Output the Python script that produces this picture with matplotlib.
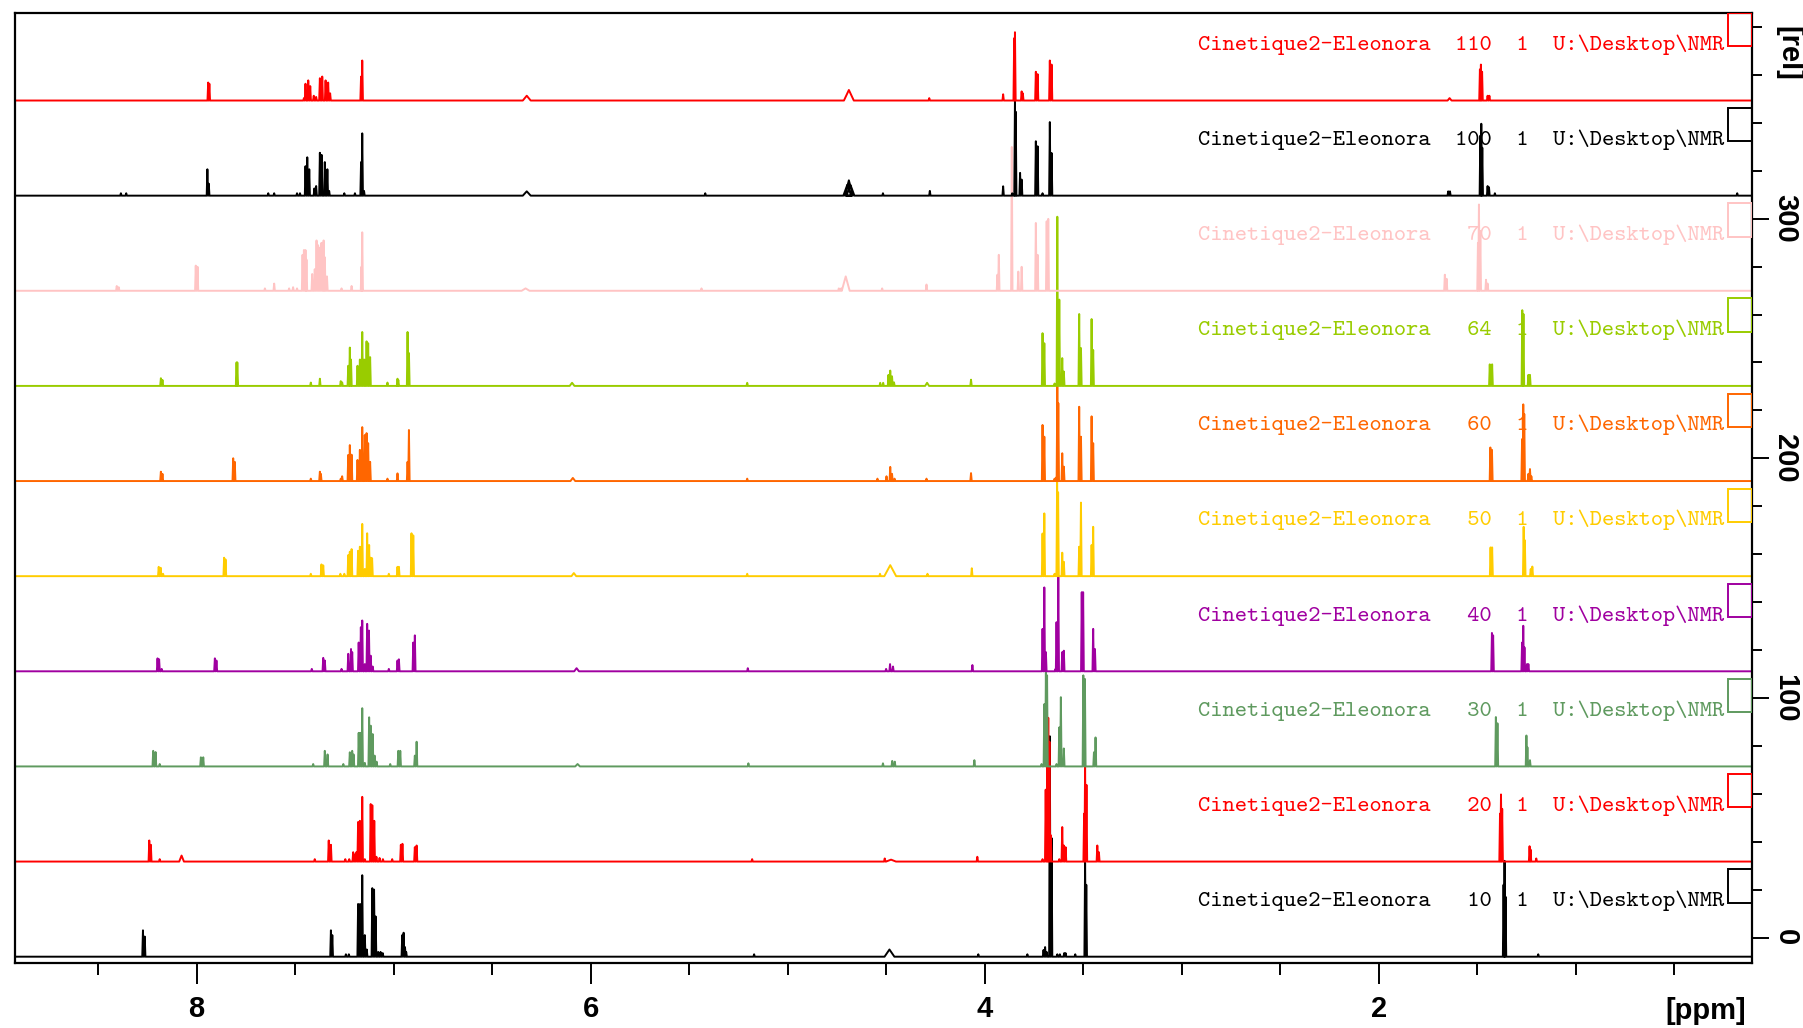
import matplotlib
matplotlib.use("Agg")
import numpy as np
import matplotlib.pyplot as plt
from matplotlib import font_manager
from matplotlib.patches import Rectangle
from matplotlib.ticker import FixedLocator, MultipleLocator

# ---- stacked 1H spectra: experiment numbers, colours, vertical offsets ----
experiments = [10, 20, 30, 40, 50, 60, 64, 70, 100, 110]
colors = ["#000000", "#ff0000", "#5f9a5f", "#a000a0", "#ffcc00",
          "#ff6600", "#99cc00", "#ffc4c4", "#000000", "#ff0000"]
offsets = [-8.0, 31.7, 71.4, 111.1, 150.8, 190.5, 230.2, 269.9, 309.6, 349.3]
dataset = "Cinetique2-Eleonora"
procno = 1
path = "U:\\Desktop\\NMR"

x_ticks = [8, 6, 4, 2]
x_tick_labels = ["8", "6", "4", "2"]
y_ticks = [0, 100, 200, 300]
y_tick_labels = ["0", "100", "200", "300"]

# peak lists: (shift in ppm, intensity in rel units)
peaks_010 = [
    (8.272, 11), (8.263, 8.4),
    (7.318, 11), (7.311, 9), (7.242, 1), (7.227, 1),
    (7.180, 22), (7.170, 22), (7.159, 34), (7.146, 9), (7.136, 3),
    (7.108, 28.6), (7.099, 28), (7.091, 16.8), (7.078, 2), (7.066, 2), (7.055, 1.5),
    (6.956, 9), (6.949, 10), (6.942, 4), (6.936, 2),
    (5.170, 1), (4.032, 1),
    (3.783, 1), (3.701, 2.8), (3.693, 4), (3.685, 2),
    (3.669, 92), (3.660, 49.5), (3.631, 1), (3.618, 1), (3.596, 1.5), (3.589, 1.5), (3.540, 1),
    (3.490, 40), (3.484, 30),
    (1.366, 30), (1.361, 40), (1.356, 25), (1.190, 1),
]
humps_010 = [(4.483, 3, 0.025)]

peaks_020 = [
    (8.240, 8.8), (8.232, 7), (8.187, 1),
    (7.400, 1), (7.329, 8.8), (7.318, 7),
    (7.245, 1), (7.225, 1), (7.205, 3.9), (7.196, 3), (7.188, 4),
    (7.180, 16.5), (7.171, 17), (7.159, 27), (7.146, 1),
    (7.116, 24), (7.108, 23.5), (7.098, 17), (7.087, 2), (7.071, 1.5), (7.054, 1),
    (7.007, 1), (6.963, 7), (6.955, 7.4), (6.892, 6), (6.883, 6.7),
    (5.180, 1), (4.507, 1.3), (4.037, 2),
    (3.706, 1), (3.690, 30), (3.682, 45), (3.677, 60), (3.671, 50), (3.664, 11),
    (3.621, 1), (3.606, 14.4), (3.598, 6.7), (3.589, 6),
    (3.495, 20), (3.490, 40), (3.483, 32),
    (3.428, 6.7), (3.420, 3.9),
    (1.384, 20), (1.379, 28), (1.373, 22), (1.234, 6.4), (1.229, 5), (1.200, 1.3),
]
humps_020 = [(8.076, 2.5, 0.012), (4.475, 0.8, 0.025)]

peaks_030 = [
    (8.220, 6.5), (8.208, 6), (8.187, 1),
    (7.978, 3.8), (7.966, 3.8),
    (7.408, 1), (7.349, 6.5), (7.335, 5), (7.255, 1),
    (7.222, 5.9), (7.210, 6.5), (7.203, 5),
    (7.177, 14), (7.169, 14), (7.159, 24.3), (7.146, 1.5),
    (7.124, 20.5), (7.116, 17), (7.106, 13.5), (7.096, 4.5), (7.086, 2),
    (7.017, 1), (6.976, 6.5), (6.966, 6.5), (6.892, 4.5), (6.883, 10.3),
    (5.199, 1.3), (4.516, 1.3), (4.469, 2.3), (4.456, 2), (4.052, 2.6),
    (3.711, 1), (3.697, 26), (3.689, 39.3), (3.683, 38),
    (3.635, 1), (3.621, 16.3), (3.613, 28.9), (3.606, 2), (3.598, 7.5),
    (3.499, 38), (3.491, 36.5),
    (3.445, 5.9), (3.437, 12.1),
    (1.405, 20.6), (1.397, 18), (1.250, 12.9), (1.245, 8), (1.232, 2.6),
]
humps_030 = [(6.066, 1, 0.012)]

peaks_040 = [
    (8.198, 5.4), (8.190, 5), (8.177, 1),
    (7.907, 5.4), (7.899, 4.5),
    (7.415, 1), (7.357, 5.6), (7.349, 4.5), (7.264, 1),
    (7.230, 7.3), (7.216, 9.3), (7.210, 8),
    (7.177, 12), (7.166, 18.4), (7.159, 21.2), (7.146, 3),
    (7.134, 19.8), (7.125, 17), (7.116, 6.5), (7.106, 2),
    (7.024, 1), (6.980, 4.5), (6.973, 5), (6.900, 12), (6.892, 15),
    (5.202, 1.3), (4.500, 1), (4.480, 3), (4.465, 2), (4.062, 2.6),
    (3.706, 17.7), (3.697, 35), (3.689, 8),
    (3.640, 1), (3.635, 20.5), (3.626, 40),
    (3.606, 8), (3.598, 8.6),
    (3.507, 33), (3.500, 33),
    (3.449, 17.7), (3.440, 9.3),
    (1.425, 16), (1.419, 15), (1.272, 12), (1.266, 19), (1.260, 10), (1.247, 3), (1.240, 3),
]
humps_040 = [(6.071, 1.3, 0.012)]

peaks_050 = [
    (8.192, 3.9), (8.182, 3.5), (8.170, 1),
    (7.860, 7.7), (7.853, 7),
    (7.420, 1), (7.366, 4.9), (7.357, 4.5),
    (7.270, 1), (7.250, 1),
    (7.230, 8.8), (7.222, 10.2), (7.213, 11.3),
    (7.180, 10.6), (7.171, 12.3), (7.159, 21.8), (7.146, 3),
    (7.134, 17.9), (7.124, 13), (7.116, 7.7), (7.109, 7.5),
    (7.024, 1), (6.980, 3.9), (6.973, 3.9), (6.909, 17.9), (6.900, 17),
    (5.205, 1), (4.531, 1), (4.290, 1), (4.065, 3.3),
    (3.706, 17.8), (3.697, 26.2), (3.645, 1), (3.638, 1),
    (3.632, 40), (3.627, 35),
    (3.606, 9.8), (3.598, 6),
    (3.520, 12.3), (3.511, 30.7),
    (3.457, 13), (3.449, 20.6),
    (1.432, 12), (1.424, 12), (1.264, 20.6), (1.258, 15), (1.228, 3), (1.220, 4),
]
humps_050 = [(6.085, 1.3, 0.012), (4.479, 4.6, 0.03)]

peaks_060 = [
    (8.181, 3.9), (8.173, 3),
    (7.814, 9.5), (7.806, 8),
    (7.420, 1), (7.374, 3.9), (7.369, 3),
    (7.268, 1), (7.261, 2),
    (7.230, 10.9), (7.222, 15), (7.213, 11),
    (7.183, 8.8), (7.171, 13), (7.159, 22.5), (7.146, 19.2), (7.137, 20), (7.129, 15.8), (7.119, 8),
    (7.031, 1), (6.980, 3.2), (6.929, 8), (6.922, 21.3),
    (5.205, 1), (4.544, 1), (4.498, 2), (4.479, 5.9), (4.470, 3), (4.457, 1), (4.295, 1), (4.069, 3.3),
    (3.706, 23.4), (3.697, 18.5), (3.645, 1), (3.636, 1.5),
    (3.631, 40), (3.626, 32.5),
    (3.606, 11.6), (3.598, 6),
    (3.520, 31), (3.511, 18.5),
    (3.457, 27), (3.449, 15.8),
    (1.433, 14), (1.425, 13), (1.272, 17.5), (1.266, 32), (1.261, 28), (1.240, 3), (1.232, 5), (1.225, 2),
]
humps_060 = [(6.090, 1.3, 0.012)]

peaks_064 = [
    (8.181, 3.2), (8.173, 2.5),
    (7.797, 9.8), (7.793, 9.8),
    (7.420, 1.4), (7.374, 3),
    (7.268, 2), (7.261, 1.5),
    (7.230, 8.4), (7.222, 16), (7.216, 11),
    (7.183, 8.4), (7.171, 11), (7.159, 22.5), (7.149, 11), (7.137, 18.6), (7.129, 17.8), (7.119, 12),
    (7.031, 1.4), (6.980, 3), (6.976, 2.5), (6.929, 22.5), (6.922, 13.7),
    (5.205, 1.3), (4.530, 1.3), (4.515, 1.3), (4.488, 4.6), (4.479, 6.4), (4.470, 4), (4.460, 1.5),
    (4.069, 2.6),
    (3.706, 22), (3.697, 17.8), (3.645, 1),
    (3.631, 70.6), (3.621, 36),
    (3.606, 11.6), (3.598, 6),
    (3.520, 30), (3.511, 15.8),
    (3.457, 27.9), (3.449, 15),
    (1.436, 9), (1.424, 9), (1.271, 31.6), (1.265, 30), (1.240, 4.6), (1.232, 4.6),
]
humps_064 = [(6.094, 1.3, 0.012), (4.292, 1.3, 0.01)]

peaks_070 = [
    (8.405, 2), (8.395, 1.5),
    (8.004, 10.5), (7.995, 10),
    (7.653, 1), (7.606, 3),
    (7.530, 1), (7.510, 1.5), (7.490, 1),
    (7.462, 15), (7.455, 17), (7.447, 17), (7.442, 13),
    (7.413, 7), (7.400, 9), (7.391, 21), (7.383, 19), (7.374, 18), (7.366, 20), (7.355, 21),
    (7.349, 14), (7.338, 6),
    (7.264, 1), (7.213, 2), (7.163, 10), (7.159, 24.4),
    (5.437, 1), (4.740, 1), (4.728, 1), (4.520, 1), (4.295, 2.6),
    (3.935, 6.7), (3.928, 15), (3.862, 60), (3.829, 8), (3.812, 10),
    (3.740, 28.3), (3.731, 15), (3.685, 29), (3.677, 30),
    (1.664, 6.7), (1.655, 5), (1.496, 20), (1.491, 36), (1.484, 25), (1.455, 4.6), (1.447, 3),
]
humps_070 = [(6.330, 1, 0.02), (4.705, 6, 0.02)]

peaks_100 = [
    (8.384, 1), (8.357, 1),
    (7.945, 11), (7.938, 5),
    (7.636, 1), (7.606, 1),
    (7.490, 1), (7.475, 1),
    (7.447, 12.3), (7.438, 16), (7.428, 11),
    (7.402, 3), (7.393, 4),
    (7.374, 17.9), (7.365, 17), (7.349, 14), (7.336, 11), (7.327, 2),
    (7.250, 1), (7.196, 1), (7.165, 14), (7.159, 26), (7.150, 2),
    (5.418, 1), (4.516, 1), (4.278, 2), (3.906, 3.9),
    (3.860, 1), (3.846, 40), (3.842, 35), (3.820, 9.5), (3.812, 6.7),
    (3.740, 22.7), (3.731, 20.6), (3.706, 1), (3.669, 30.7), (3.660, 17.8),
    (1.647, 1.8), (1.638, 1.8), (1.484, 25), (1.479, 30), (1.474, 20),
    (1.447, 4), (1.440, 3.5), (1.410, 1), (0.180, 1),
]
humps_100 = [(6.324, 1.8, 0.02), (4.697, 4.5, 0.02), (4.689, 6.4, 0.02), (4.681, 4.5, 0.02)]

peaks_110 = [
    (7.941, 7.5), (7.935, 7),
    (7.455, 1), (7.447, 7), (7.433, 8.4), (7.423, 6),
    (7.405, 2), (7.393, 1.5),
    (7.374, 9.3), (7.362, 10), (7.345, 8.4), (7.332, 7.5), (7.322, 3),
    (7.165, 10), (7.159, 16.7),
    (4.281, 1), (3.906, 2.6),
    (3.850, 26), (3.846, 28.5), (3.812, 3.8), (3.806, 3),
    (3.740, 12), (3.731, 11), (3.669, 16.7), (3.660, 15),
    (1.486, 13), (1.481, 15), (1.475, 12), (1.447, 2), (1.438, 2),
]
humps_110 = [(6.324, 2, 0.02), (4.689, 4.4, 0.025), (1.640, 1, 0.01)]

peak_sets = [peaks_010, peaks_020, peaks_030, peaks_040, peaks_050,
             peaks_060, peaks_064, peaks_070, peaks_100, peaks_110]
hump_sets = [humps_010, humps_020, humps_030, humps_040, humps_050,
             humps_060, humps_064, humps_070, humps_100, humps_110]

X_LEFT, X_RIGHT = 8.923, 0.105
Y_LOW, Y_HIGH = -10.8, 385.7
SPIKE = 0.0035


def trace(peaks, humps):
    """Polyline through the baseline with one narrow spike per line."""
    feats = [(p, h, SPIKE) for p, h in peaks] + list(humps)
    feats.sort(key=lambda f: -f[0])
    xs, ys = [9.5], [0.0]
    for p, h, w in feats:
        xs += [p + w, p, p - w]
        ys += [0.0, h, 0.0]
    xs.append(-0.5)
    ys.append(0.0)
    return np.array(xs), np.array(ys)


# ---- fonts ----
available = {f.name for f in font_manager.fontManager.ttflist}
if "Liberation Sans Narrow" in available:
    axis_family, axis_size = "Liberation Sans Narrow", 23
else:
    axis_family, axis_size = "Liberation Sans", 21
mono_family = ["cmtt10", "DejaVu Sans Mono"]

W, H = 1803, 1028
fig = plt.figure(figsize=(W / 100, H / 100), dpi=100)
fig.patch.set_facecolor("white")
ax_l, ax_r, ax_t, ax_b = 14.7, 1752.0, 13.3, 963.4
ax = fig.add_axes([ax_l / W, 1 - ax_b / H, (ax_r - ax_l) / W, (ax_b - ax_t) / H])

for peaks, humps, off, col in zip(peak_sets, hump_sets, offsets, colors):
    xs, ys = trace(peaks, humps)
    ax.plot(xs, ys + off, color=col, lw=1.4, solid_joinstyle="round")

# experiment labels and colour boxes at the right edge
box_left = 0.229
for n, off, col in zip(experiments, offsets, colors):
    label = f"{dataset}  {n:>3}  {procno}  {path}"
    ax.text(0.247, off + 21.2, label, ha="right", va="baseline",
            family=mono_family, fontsize=16.8, color=col, zorder=1)
    ax.add_patch(Rectangle((X_RIGHT, off + 22.6), box_left - X_RIGHT, 13.9,
                           fill=False, edgecolor=col, lw=1.4, zorder=3))

ax.set_xlim(X_LEFT, X_RIGHT)
ax.set_ylim(Y_LOW, Y_HIGH)

for s in ax.spines.values():
    s.set_linewidth(1.6)

ax.xaxis.set_major_locator(FixedLocator(x_ticks))
ax.set_xticklabels(x_tick_labels)
ax.xaxis.set_minor_locator(MultipleLocator(0.5))
ax.tick_params(axis="x", which="major", direction="out", length=15, width=1.4,
               pad=8, labelsize=axis_size)
ax.tick_params(axis="x", which="minor", direction="out", length=8.5, width=1.4)

ax.yaxis.tick_right()
ax.yaxis.set_major_locator(FixedLocator(y_ticks))
ax.set_yticklabels(y_tick_labels)
ax.yaxis.set_minor_locator(MultipleLocator(20))
ax.tick_params(axis="y", which="major", direction="out", length=12, width=1.4,
               pad=2, labelsize=axis_size, labelrotation=-90)
ax.tick_params(axis="y", which="minor", direction="out", length=7, width=1.4)
for lab in ax.get_yticklabels():
    lab.set_va("center")
for lab in ax.get_xticklabels() + ax.get_yticklabels():
    lab.set_fontfamily(axis_family)
    lab.set_fontweight("bold")

fig.text(1746 / W, 1 - 1011 / H, "[ppm]", ha="right", va="center",
         family=axis_family, fontweight="bold", fontsize=axis_size)
fig.text(1788 / W, 1 - 53 / H, "[rel]", ha="center", va="center", rotation=-90,
         family=axis_family, fontweight="bold", fontsize=axis_size)

fig.savefig("out.png", dpi=100, facecolor="white")
